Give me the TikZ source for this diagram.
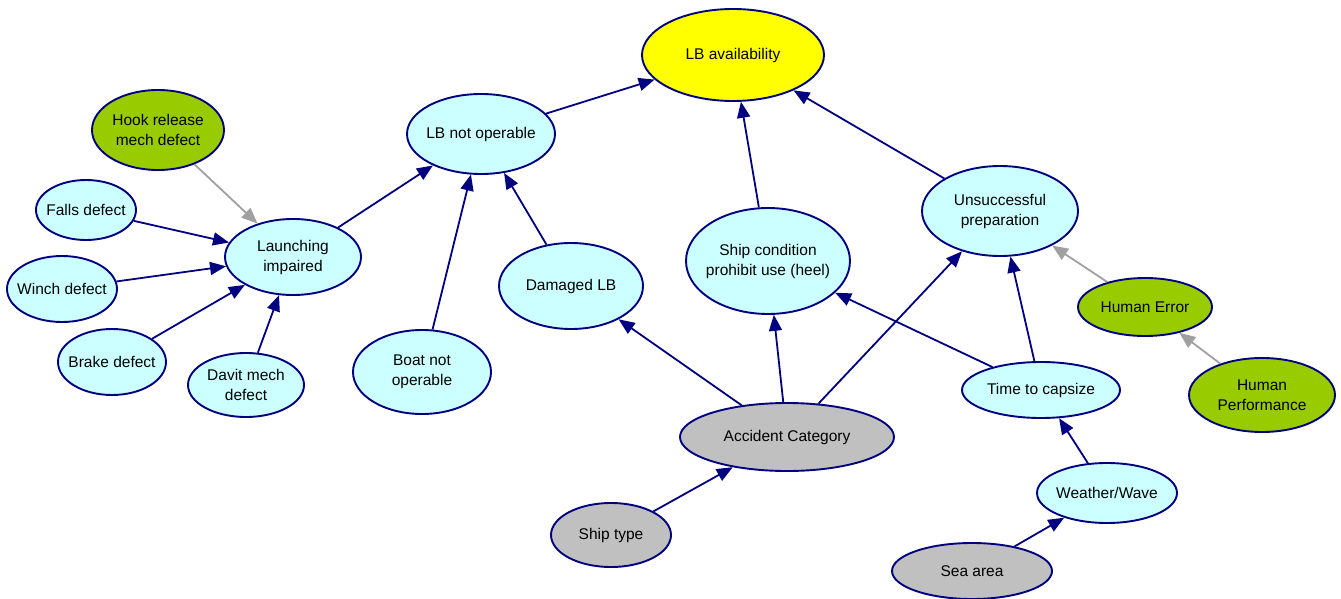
\documentclass[tikz,border=0pt]{standalone}
\usepackage{fontspec}
\setmainfont{Liberation Sans}
\usetikzlibrary{shapes.geometric,arrows.meta}
\definecolor{navyc}{RGB}{0,0,128}
\definecolor{cyanc}{RGB}{204,255,255}
\definecolor{yellowc}{RGB}{255,255,0}
\definecolor{greenc}{RGB}{153,204,0}
\definecolor{grayc}{RGB}{192,192,192}
\definecolor{arrgray}{RGB}{160,160,160}
\begin{document}
\begin{tikzpicture}[x=1pt,y=-1pt,
  bn/.style 2 args={ellipse, draw=navyc, line width=1.9pt, minimum width=#1pt, minimum height=#2pt,
    inner sep=-14pt, align=center, font=\fontsize{15.5}{20}\selectfont},
  cy/.style={fill=cyanc}, ye/.style={fill=yellowc}, gr/.style={fill=greenc}, gy/.style={fill=grayc},
  link/.style={draw=navyc, line width=1.8pt, -{Triangle[length=16pt,width=13pt]}},
  glink/.style={draw=arrgray, line width=1.8pt, -{Triangle[length=16pt,width=13pt]}}]
\useasboundingbox (0,0) rectangle (1341,599);
\node[bn={182}{92}, ye] (avail) at (733,55) {LB availability};
\node[bn={148}{80}, cy] (notop) at (481,134) {LB not operable};
\node[bn={132}{80}, gr] (hook) at (158,130) {Hook release\\mech defect};
\node[bn={100}{60}, cy] (falls) at (86,210) {Falls defect};
\node[bn={110}{66}, cy] (winch) at (62,289) {Winch defect};
\node[bn={108}{66}, cy] (brake) at (112,362) {Brake defect};
\node[bn={116}{64}, cy] (davit) at (246,385) {Davit mech\\defect};
\node[bn={136}{76}, cy] (launch) at (293,257) {Launching\\impaired};
\node[bn={138}{84}, cy] (boat) at (422,372) {Boat not\\operable};
\node[bn={144}{86}, cy] (damaged) at (571,286) {Damaged LB};
\node[bn={164}{106}, cy] (shipcond) at (768,261) {Ship condition\\prohibit use (heel)};
\node[bn={156}{90}, cy] (unsucc) at (1000,211) {Unsuccessful\\preparation};
\node[bn={134}{58}, gr] (herr) at (1145,307) {Human Error};
\node[bn={146}{74}, gr] (hperf) at (1262,395) {Human\\Performance};
\node[bn={158}{56}, cy] (capsize) at (1041,390) {Time to capsize};
\node[bn={214}{68}, gy] (accident) at (787,437) {Accident Category};
\node[bn={140}{60}, cy] (weather) at (1107,493) {Weather/Wave};
\node[bn={120}{64}, gy] (shiptype) at (611,535) {Ship type};
\node[bn={160}{56}, gy] (sea) at (972,571) {Sea area};

\draw[link] (notop) -- (avail);
\draw[link] (shipcond) -- (avail);
\draw[link] (unsucc) -- (avail);
\draw[link] (launch) -- (notop);
\draw[link] (boat) -- (notop);
\draw[link] (damaged) -- (notop);
\draw[glink] (hook) -- (launch);
\draw[link] (falls) -- (launch);
\draw[link] (winch) -- (launch);
\draw[link] (brake) -- (launch);
\draw[link] (davit) -- (launch);
\draw[link] (accident) -- (damaged);
\draw[link] (accident) -- (shipcond);
\draw[link] (accident) -- (unsucc);
\draw[link] (capsize) -- (shipcond);
\draw[link] (capsize) -- (unsucc);
\draw[glink] (herr) -- (unsucc);
\draw[glink] (hperf) -- (herr);
\draw[link] (weather) -- (capsize);
\draw[link] (shiptype) -- (accident);
\draw[link] (sea) -- (weather);
\end{tikzpicture}
\end{document}
